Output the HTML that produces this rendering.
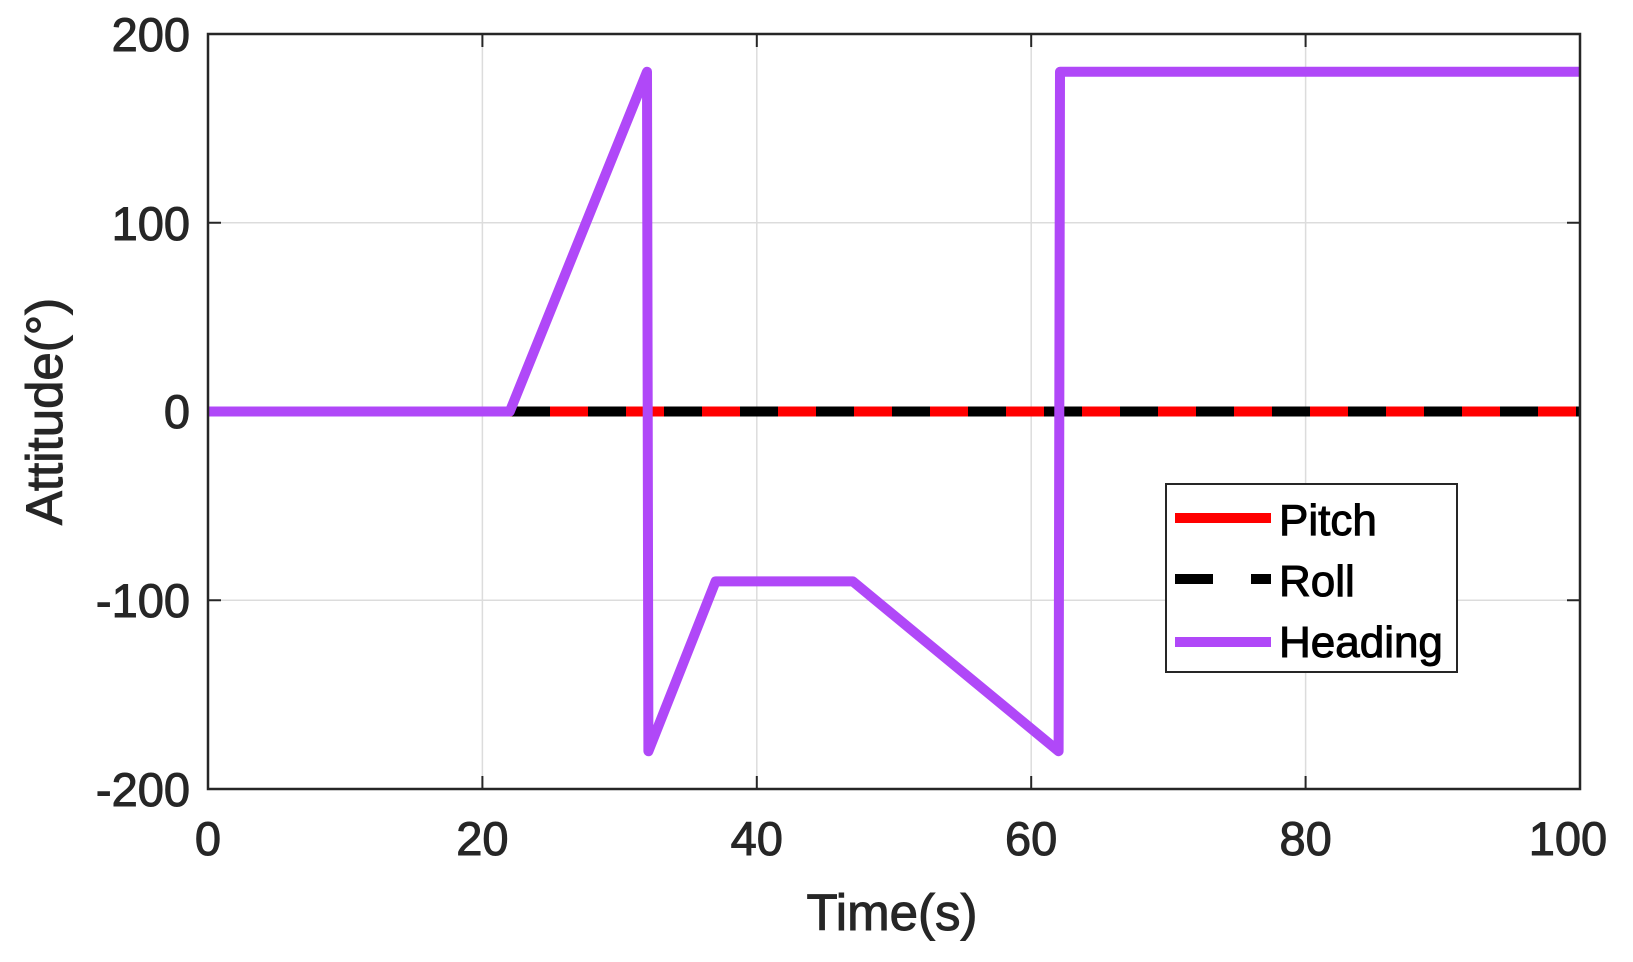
<!DOCTYPE html>
<html><head><style>body{margin:0;background:#fff}</style></head><body>
<svg width="1633" height="957" xmlns="http://www.w3.org/2000/svg" font-family="Liberation Sans, sans-serif">
<rect width="1633" height="957" fill="#fff"/>
<g stroke="#dcdcdc" stroke-width="1.5">
<line x1="482.4" y1="34" x2="482.4" y2="789"/><line x1="756.8" y1="34" x2="756.8" y2="789"/>
<line x1="1031.2" y1="34" x2="1031.2" y2="789"/><line x1="1305.6" y1="34" x2="1305.6" y2="789"/>
<line x1="208" y1="222.75" x2="1580" y2="222.75"/><line x1="208" y1="411.5" x2="1580" y2="411.5"/><line x1="208" y1="600.25" x2="1580" y2="600.25"/>
</g>
<g stroke="#262626" stroke-width="2">
<line x1="482.4" y1="789" x2="482.4" y2="776"/><line x1="756.8" y1="789" x2="756.8" y2="776"/><line x1="1031.2" y1="789" x2="1031.2" y2="776"/><line x1="1305.6" y1="789" x2="1305.6" y2="776"/>
<line x1="482.4" y1="34" x2="482.4" y2="47"/><line x1="756.8" y1="34" x2="756.8" y2="47"/><line x1="1031.2" y1="34" x2="1031.2" y2="47"/><line x1="1305.6" y1="34" x2="1305.6" y2="47"/>
<line x1="208" y1="222.75" x2="221" y2="222.75"/><line x1="208" y1="600.25" x2="221" y2="600.25"/>
<line x1="1580" y1="222.75" x2="1567" y2="222.75"/><line x1="1580" y1="600.25" x2="1567" y2="600.25"/>
</g>
<line x1="208" y1="411.5" x2="1580" y2="411.5" stroke="#ff0000" stroke-width="10"/>
<line x1="208" y1="411.5" x2="1580" y2="411.5" stroke="#000" stroke-width="10" stroke-dasharray="38 38"/>
<polyline fill="none" stroke="#b048f8" stroke-width="10" stroke-linejoin="round" points="208,411.5 509.8,411.5 647,71.75 648.4,751.25 715.6,581.4 852.8,581.4 1058.6,751.25 1060,71.75 1580,71.75"/>
<rect x="208" y="34" width="1372" height="755" fill="none" stroke="#262626" stroke-width="2.5"/>
<g fill="#262626" stroke="#262626" stroke-width="1" font-size="47">
<g text-anchor="end">
<text x="190" y="51">200</text><text x="190" y="240">100</text><text x="190" y="428">0</text><text x="190" y="617">-100</text><text x="190" y="806">-200</text>
</g>
<g text-anchor="middle">
<text x="208" y="855">0</text><text x="482.4" y="855">20</text><text x="756.8" y="855">40</text><text x="1031.2" y="855">60</text><text x="1305.6" y="855">80</text><text x="1568" y="855">100</text>
<text x="892" y="930" font-size="51">Time(s)</text>
<text transform="translate(62,411.5) rotate(-90)" font-size="51">Attitude(°)</text>
</g>
</g>
<rect x="1166" y="484" width="291" height="188" fill="#fff" stroke="#262626" stroke-width="2"/>
<line x1="1175" y1="518" x2="1271" y2="518" stroke="#ff0000" stroke-width="10"/>
<line x1="1175" y1="579" x2="1271" y2="579" stroke="#000" stroke-width="10" stroke-dasharray="38 38"/>
<line x1="1175" y1="642" x2="1271" y2="642" stroke="#b048f8" stroke-width="10"/>
<g font-size="44" fill="#000" stroke="#000" stroke-width="1">
<text x="1279" y="535">Pitch</text><text x="1279" y="596">Roll</text><text x="1279" y="657">Heading</text>
</g>
</svg>
</body></html>
